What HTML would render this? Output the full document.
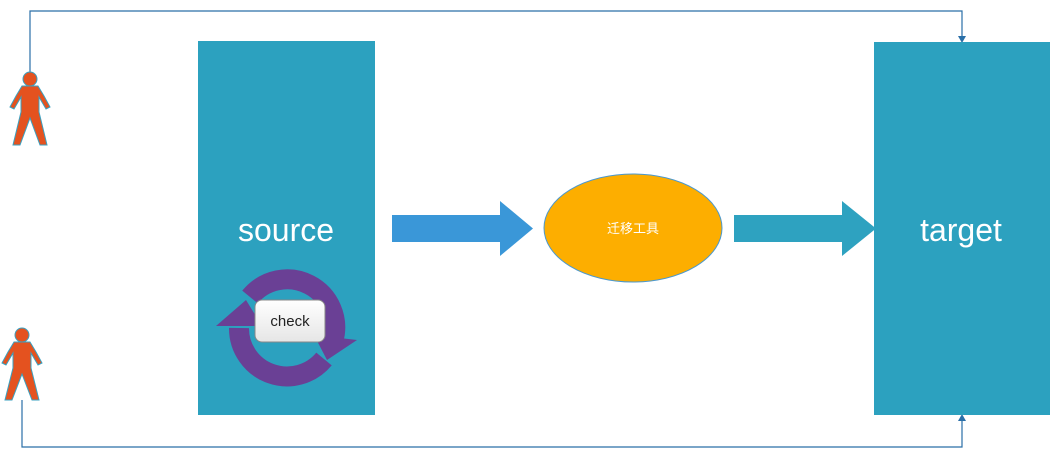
<!DOCTYPE html>
<html><head><meta charset="utf-8"><style>html,body{margin:0;padding:0;background:#fff;width:1051px;height:456px;overflow:hidden}</style></head>
<body>
<svg width="1051" height="456" viewBox="0 0 1051 456" xmlns="http://www.w3.org/2000/svg">
<defs>
<linearGradient id="g" x1="0" y1="0" x2="0" y2="1"><stop offset="0" stop-color="#ffffff"/><stop offset="1" stop-color="#e6e6e6"/></linearGradient>
</defs>
<polyline points="30,73 30,11 962,11 962,38" fill="none" stroke="#2a6fa8" stroke-width="1.2"/>
<polygon points="958,36 966,36 962,43" fill="#2a6fa8"/>
<polyline points="22,400 22,447 962,447 962,420" fill="none" stroke="#2a6fa8" stroke-width="1.2"/>
<polygon points="958,421 966,421 962,414" fill="#2a6fa8"/>
<rect x="198" y="41" width="177" height="374" fill="#2CA1BF"/>
<rect x="874" y="42" width="176" height="373" fill="#2CA1BF"/>
<text x="286" y="241" font-family="Liberation Sans, sans-serif" font-size="32" fill="#fff" text-anchor="middle">source</text>
<text x="961" y="241" font-family="Liberation Sans, sans-serif" font-size="32" fill="#fff" text-anchor="middle">target</text>
<path d="M250,297 A48,48 0 0 1 333.4,340.4" fill="none" stroke="#6A4095" stroke-width="20"/>
<polygon points="314,335 357,340 327,360" fill="#6A4095"/>
<path d="M324,359 A48,48 0 0 1 239,328" fill="none" stroke="#6A4095" stroke-width="20"/>
<polygon points="262,326 216,326 246,300" fill="#6A4095"/>
<rect x="255" y="300" width="70" height="42" rx="7" fill="url(#g)" stroke="#888" stroke-width="1"/>
<text x="290" y="326" font-family="Liberation Sans, sans-serif" font-size="15" fill="#222" text-anchor="middle">check</text>
<polygon points="392,215 500,215 500,201 533,228.5 500,256 500,242 392,242" fill="#3A97D8"/>
<polygon points="734,215 842,215 842,201 876,228.5 842,256 842,242 734,242" fill="#2EA2C0"/>
<ellipse cx="633" cy="228" rx="89" ry="54" fill="#FDAE00" stroke="#4a98cf" stroke-width="1"/>
<text x="633" y="233" font-family="Liberation Sans, Noto Sans CJK SC, sans-serif" font-size="13" fill="#fff" text-anchor="middle">迁移工具</text>
<g fill="#E4521F" stroke="#3aa0c0" stroke-width="1">
<circle cx="30" cy="79" r="7"/>
<polygon points="22,86 38,86 44,96 50,107 46,109 39,97 39,112 47,145 40,145 30,118 20,145 13,145 21,112 21,97 14,109 10,107 16,96"/>
<circle cx="22" cy="335" r="7"/>
<polygon points="14,342 30,342 36,352 42,363 38,365 31,353 31,368 39,400 32,400 22,374 12,400 5,400 13,368 13,353 6,365 2,363 8,352"/>
</g>
</svg>
</body></html>
